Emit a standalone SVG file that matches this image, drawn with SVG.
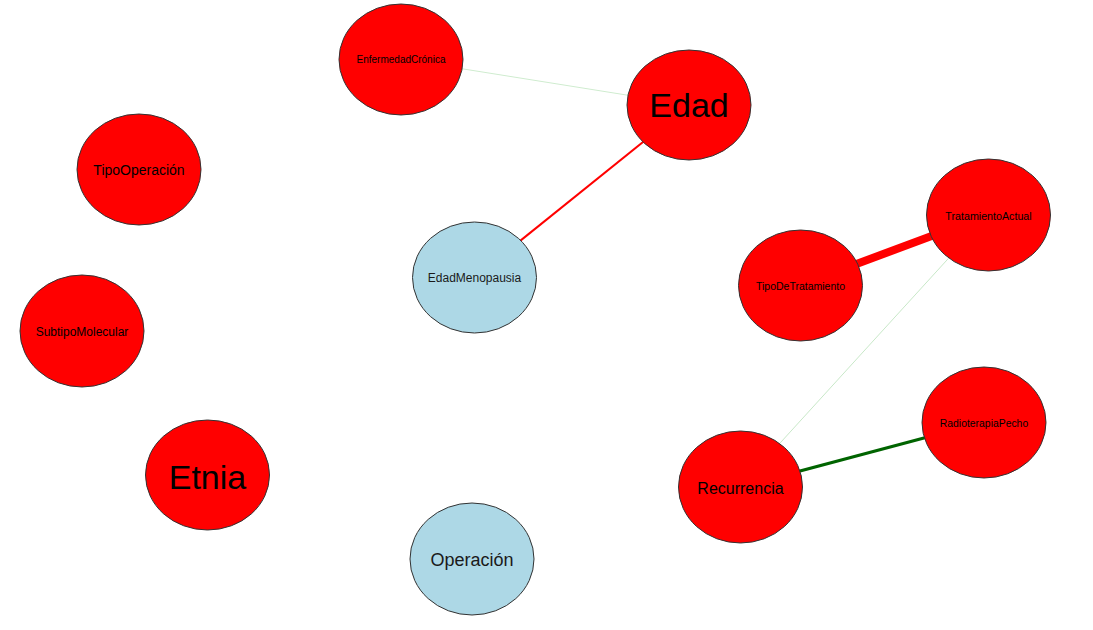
<svg xmlns="http://www.w3.org/2000/svg" width="1093" height="630" viewBox="0 0 1093 630">
<style>
.n ellipse{stroke:#333;stroke-width:1}
.r ellipse{fill:#ff0000}
.b ellipse{fill:#add8e6}
.n text{font-family:"Liberation Sans",Arial,sans-serif;text-anchor:middle;dominant-baseline:central;fill:#000}
.b text{fill:#1a1a1a}
.e line{fill:none}
</style>
<rect width="1093" height="630" fill="#fff"/>
<g id="edges" class="e">
<line x1="401" y1="59" x2="689" y2="105" stroke="#cfeccf" stroke-width="1"/>
<line x1="689" y1="105" x2="474" y2="278" stroke="#ff0000" stroke-width="2"/>
<line x1="800" y1="285" x2="988" y2="215" stroke="#ff0000" stroke-width="8"/>
<line x1="988" y1="215" x2="740" y2="487" stroke="#c8e8c8" stroke-width="1"/>
<line x1="740" y1="487" x2="984" y2="422" stroke="#006400" stroke-width="3"/>
</g>
<g id="EnfermedadCronica" class="n r"><ellipse cx="401" cy="59.5" rx="62" ry="55.5"/><text x="401" y="59.5" font-size="10">EnfermedadCrónica</text></g>
<g id="Edad" class="n r"><ellipse cx="689" cy="105" rx="62" ry="55"/><text x="689" y="105" font-size="34">Edad</text></g>
<g id="TipoOperacion" class="n r"><ellipse cx="139" cy="169.5" rx="62" ry="55.5"/><text x="139" y="170" font-size="14">TipoOperación</text></g>
<g id="EdadMenopausia" class="n b"><ellipse cx="474.5" cy="277.5" rx="62" ry="55.5"/><text x="474.5" y="278" font-size="12">EdadMenopausia</text></g>
<g id="TratamientoActual" class="n r"><ellipse cx="988.5" cy="215" rx="62" ry="56"/><text x="988.5" y="216" font-size="10.7">TratamientoActual</text></g>
<g id="TipoDeTratamiento" class="n r"><ellipse cx="800.5" cy="285.5" rx="62" ry="55.5"/><text x="800.5" y="286" font-size="10.5">TipoDeTratamiento</text></g>
<g id="SubtipoMolecular" class="n r"><ellipse cx="82" cy="331" rx="62" ry="56"/><text x="82" y="332" font-size="12">SubtipoMolecular</text></g>
<g id="RadioterapiaPecho" class="n r"><ellipse cx="984" cy="422.5" rx="62" ry="55.5"/><text x="984" y="423" font-size="10.4">RadioterapiaPecho</text></g>
<g id="Recurrencia" class="n r"><ellipse cx="740.5" cy="487" rx="62" ry="56"/><text x="740.5" y="488" font-size="16">Recurrencia</text></g>
<g id="Etnia" class="n r"><ellipse cx="207.5" cy="475" rx="62" ry="55"/><text x="207.5" y="477" font-size="34">Etnia</text></g>
<g id="Operacion" class="n b"><ellipse cx="472" cy="559" rx="62" ry="56"/><text x="472" y="560" font-size="18">Operación</text></g>
</svg>
